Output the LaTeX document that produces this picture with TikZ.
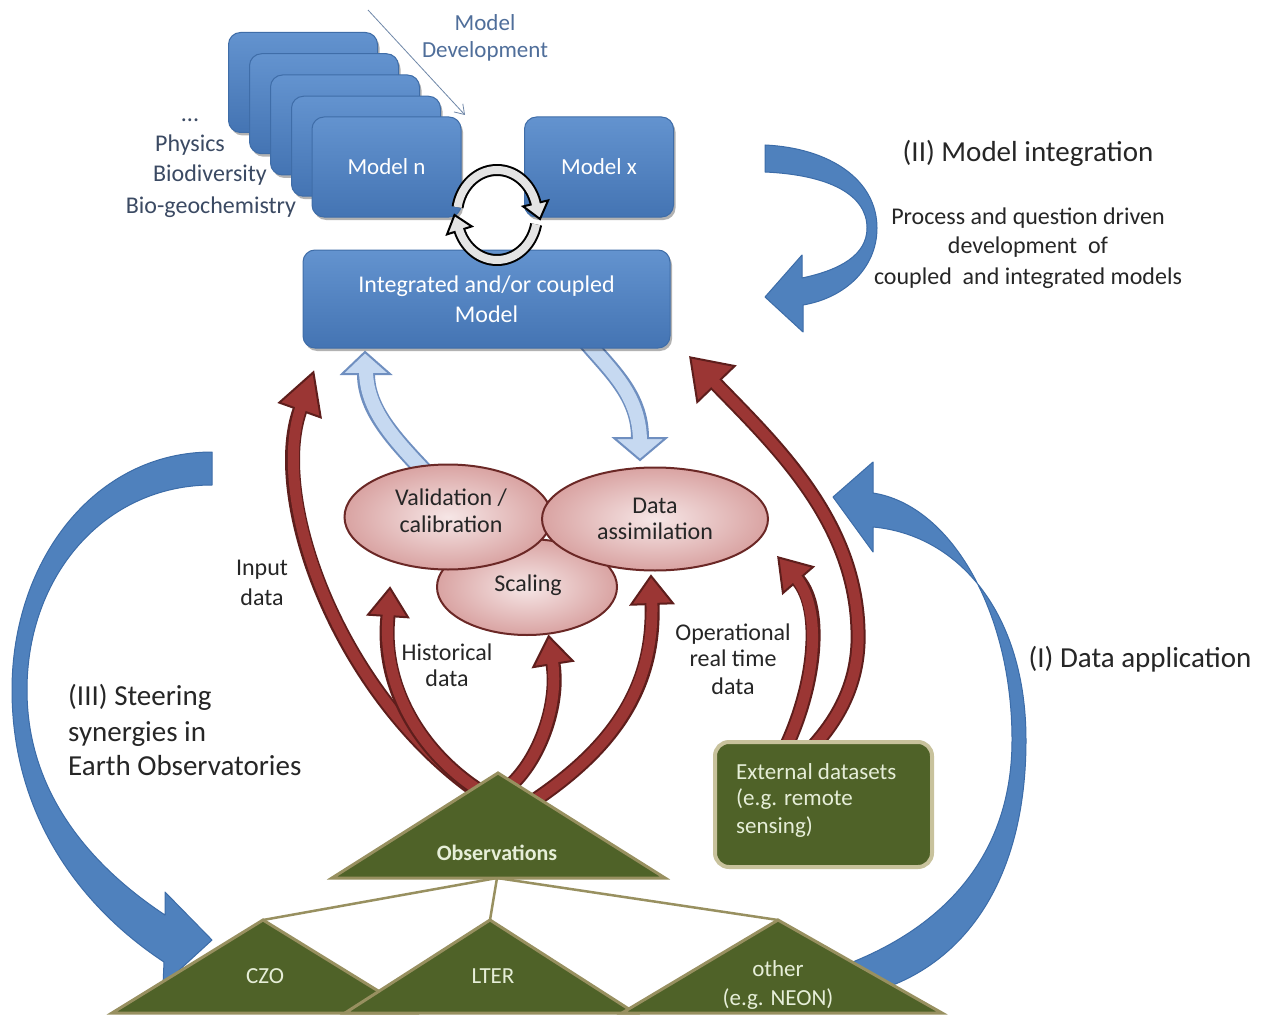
\documentclass[tikz,border=0pt]{standalone}
\usepackage{fontspec}
\setmainfont{Carlito}
\usetikzlibrary{shapes.geometric,arrows.meta,shadows}

\definecolor{BlueA}{HTML}{4F81BD}
\definecolor{BlueD}{HTML}{3C6CA8}
\definecolor{BoxTop}{HTML}{6393CF}
\definecolor{BoxBot}{HTML}{4474B3}
\definecolor{BoxEdge}{HTML}{3F6DA8}
\definecolor{LBfill}{HTML}{C6D9F1}
\definecolor{LBedge}{HTML}{6F8FC0}
\definecolor{RedF}{HTML}{9B3634}
\definecolor{RedD}{HTML}{5E1E1C}
\definecolor{PinkIn}{HTML}{F6E6E6}
\definecolor{PinkOut}{HTML}{D9A3A2}
\definecolor{PinkEdge}{HTML}{6B2826}
\definecolor{OliveF}{HTML}{4F6228}
\definecolor{OliveE}{HTML}{989060}
\definecolor{TanE}{HTML}{C8C29C}
\definecolor{GreenTxt}{HTML}{E6EED8}
\definecolor{LabTxt}{HTML}{262626}
\definecolor{StackTxt}{HTML}{3B4A63}
\definecolor{DevTxt}{HTML}{4F6E9A}
\definecolor{DevLine}{HTML}{6F87A8}
\definecolor{RingF}{HTML}{E4E4E4}

\newcommand\blockarrow[5]{%
  \draw[#1out] #2;
  \filldraw[#1head] #3 -- #4 -- #5 -- cycle;
  \draw[#1in] #2;}

\begin{document}
\begin{tikzpicture}[x=1pt,y=-1pt,
  lab/.style={inner sep=0pt, text=LabTxt, font=\fontsize{24}{29}\selectfont},
  biglab/.style={inner sep=0pt, text=LabTxt, font=\fontsize{29}{35}\selectfont},
  stacklab/.style={inner sep=0pt, text=StackTxt, font=\fontsize{24}{29}\selectfont},
  devlab/.style={inner sep=0pt, text=DevTxt, font=\fontsize{23}{28}\selectfont},
  greenlab/.style={inner sep=0pt, text=GreenTxt, font=\fontsize{23}{28}\selectfont},
  modelbox/.style={rectangle, rounded corners=12pt, draw=BoxEdge, line width=1pt,
    top color=BoxTop, bottom color=BoxBot, inner sep=0pt, minimum width=149pt,
    minimum height=100pt, text=white, align=center, font=\fontsize{23}{30}\selectfont,
    drop shadow={shadow xshift=2pt, shadow yshift=-3pt, opacity=0.3, fill=black}},
  bigblue/.style={fill=BlueA, draw=BlueD, line width=1pt, line join=round},
  redout/.style={draw=RedD, line width=15pt},
  redin/.style={draw=RedF, line width=11pt, shorten >=-4pt},
  redhead/.style={fill=RedF, draw=RedD, line width=2pt, line join=miter},
  lbout/.style={draw=LBedge, line width=18pt},
  lbin/.style={draw=LBfill, line width=14pt, shorten >=-4pt},
  lbhead/.style={fill=LBfill, draw=LBedge, line width=2pt, line join=miter},
  pinkell/.style={ellipse, draw=PinkEdge, line width=2pt, inner color=PinkIn, outer color=PinkOut, inner sep=0pt},
  ringout/.style={draw=black, line width=12pt},
  ringin/.style={draw=RingF, line width=8pt},
  ringhead/.style={fill=RingF, draw=black, line width=2pt, line join=miter},
  tri/.style={fill=OliveF, draw=OliveE, line width=3pt, line join=miter},
  link/.style={draw=OliveE, line width=2.5pt},
  extbox/.style={rectangle, rounded corners=14pt, fill=OliveF, draw=TanE, line width=4pt,
    minimum width=217pt, minimum height=125pt, inner sep=0pt}
]
\fill[white] (0,0) rectangle (1263,1019);
\useasboundingbox (0,0) rectangle (1263,1019);

% ---- big blue curved arrows ----
% (III)
\path[bigblue] (212,452) .. controls (95,452) and (12,560) .. (12,690)
  .. controls (12,820) and (85,910) .. (164,962) -- (163,985) -- (212,940) -- (165,892) -- (165,915)
  .. controls (100,872) and (27,800) .. (27,690) .. controls (27,575) and (105,485) .. (212,485) -- cycle;
% (II)
\path[bigblue] (765,145) .. controls (830,148) and (877,180) .. (877,228)
  .. controls (877,268) and (845,298) .. (803,305) -- (803,332) -- (765,297) -- (802,255) -- (802,278)
  .. controls (840,270) and (867,255) .. (867,228) .. controls (867,195) and (830,175) .. (765,172) -- cycle;
% (I)
\path[bigblue] (885,988) .. controls (965,960) and (1026,880) .. (1026,740)
  .. controls (1026,615) and (960,535) .. (873,527) -- (873,552) -- (833,497) -- (873,462) -- (873,493)
  .. controls (950,505) and (1012,610) .. (1012,740) .. controls (1012,850) and (950,925) .. (845,965) -- cycle;

% ---- model development arrow ----
\coordinate (dev1) at (368,10);
\coordinate (dev2) at (465,115);
\draw[DevLine, line width=0.8pt, -{Straight Barb[length=9pt,width=12pt]}] (dev1) -- (dev2);

% ---- model stack ----
\foreach \i in {0,...,3}
  \node[modelbox, anchor=north west] (stack\i) at ({228+21*\i},{32+21.25*\i}) {};
\node[modelbox] (modn) at (386.5,167) {Model n};
\node[modelbox] (modx) at (599,167) {Model x};

% ---- light blue arrows ----
\blockarrow{lb}{(425,472) .. controls (395,440) and (366,410) .. (366,374)}{(365,352)}{(342,374)}{(390,374)}
\blockarrow{lb}{(585,340) .. controls (610,370) and (640,395) .. (640,438)}{(640,460)}{(614,438)}{(666,438)}

% ---- integrated model ----
\node[modelbox, minimum width=367pt, minimum height=98pt, font=\fontsize{24}{30}\selectfont] (integ) at (486.5,299)
  {Integrated and/or coupled\\Model};

% ---- coupling ring ----
\draw[ringout] plot[domain=190:345, samples=50] ({497+40*cos(\x)},{215+45*sin(\x)});
\filldraw[ringhead] (540,219) -- (548.1,200.4) -- (523.1,206.4) -- cycle;
\draw[ringin] plot[domain=190:348, samples=50] ({497+40*cos(\x)},{215+45*sin(\x)});
\draw[ringout] plot[domain=12:160, samples=50] ({497+40*cos(\x)},{215+45*sin(\x)});
\filldraw[ringhead] (454.5,215) -- (471.8,226.4) -- (447,234.4) -- cycle;
\draw[ringin] plot[domain=12:163, samples=50] ({497+40*cos(\x)},{215+45*sin(\x)});

% ---- ellipses ----
\node[pinkell, minimum width=180pt, minimum height=96pt] (scal) at (527,587) {};
\node[pinkell, minimum width=207pt, minimum height=105pt] (valid) at (448,517) {};
\node[pinkell, minimum width=226pt, minimum height=103pt] (dass) at (655,519) {};

% ---- red arrows ----
\blockarrow{red}{(485,797) .. controls (340,700) and (268,500) .. (300,410)}{(313.4,372.3)}{(279.3,402.6)}{(320.7,417.4)}
\blockarrow{red}{(490,797) .. controls (425,760) and (380,690) .. (388,616)}{(390,588)}{(368,614.7)}{(408,617.3)}
\blockarrow{red}{(502,792) .. controls (535,770) and (560,709) .. (553,664)}{(548.7,636.3)}{(533.2,667.1)}{(572.8,660.9)}
\blockarrow{red}{(532,802) .. controls (610,750) and (655,690) .. (652,604)}{(651,576)}{(631,604.7)}{(673,603.3)}
\blockarrow{red}{(805,755) .. controls (840,720) and (860,680) .. (858,630) .. controls (855,520) and (775,445) .. (716,384)}{(690.3,357.4)}{(734.7,366)}{(697.3,402)}
\blockarrow{red}{(782,755) .. controls (815,690) and (824,610) .. (798,580)}{(778.3,557.4)}{(813.1,566.9)}{(782.9,593.1)}

% ---- external datasets ----
\node[extbox] (ext) at (823.5,804.5) {};

% ---- observation triangles ----
\coordinate (obsA) at (498,773);
\coordinate (obsB) at (497,878);
\coordinate (czoA) at (263,920);
\coordinate (lterA) at (490,920);
\coordinate (othA) at (778,920);
\draw[link] (obsB) -- (czoA);
\draw[link] (obsB) -- (lterA);
\draw[link] (obsB) -- (othA);
\path[tri] (obsA) -- (332,878) -- (665,878) -- cycle;
\path[tri] (czoA) -- (112,1013) -- (414,1013) -- cycle;
\path[tri] (lterA) -- (345,1013) -- (635,1013) -- cycle;
\path[tri] (othA) -- (622,1013) -- (942,1013) -- cycle;

% ---- texts ----
\node[stacklab, anchor=base] (tdots) at (190,122) {...};
\node[stacklab, anchor=base] (tphys) at (190,152) {Physics};
\node[stacklab, anchor=base] (tbiod) at (210,182) {Biodiversity};
\node[stacklab, anchor=base] (tbgc) at (211,213) {Bio-geochemistry};
\node[devlab, anchor=base] (tdev1) at (485,31) {Model};
\node[devlab, anchor=base] (tdev2) at (485,58) {Development};

\node[biglab, anchor=base] (tII) at (1028,162) {(II) Model integration};
\node[lab, anchor=base] (tp1) at (1028,224) {Process and question driven};
\node[lab, anchor=base] (tp2) at (1028,253) {development\ \ of};
\node[lab, anchor=base] (tp3) at (1028,284) {coupled\ \ and integrated models};
\node[biglab, anchor=base] (tI) at (1140,667) {(I) Data application};
\node[biglab, anchor=base west] (tIII1) at (68,705) {(III) Steering};
\node[biglab, anchor=base west] (tIII2) at (68,741) {synergies in};
\node[biglab, anchor=base west] (tIII3) at (68,775) {Earth Observatories};

\node[lab, anchor=base] (tin1) at (262,575) {Input};
\node[lab, anchor=base] (tin2) at (262,605) {data};
\node[lab, anchor=base] (tva1) at (451,505) {Validation /};
\node[lab, anchor=base] (tva2) at (451,532) {calibration};
\node[lab, anchor=base] (tda1) at (655,513) {Data};
\node[lab, anchor=base] (tda2) at (655,539) {assimilation};
\node[lab, anchor=base] (tsc) at (528,591) {Scaling};
\node[lab, anchor=base] (thi1) at (447,660) {Historical};
\node[lab, anchor=base] (thi2) at (447,686) {data};
\node[lab, anchor=base] (top1) at (733,640) {Operational};
\node[lab, anchor=base] (top2) at (733,666) {real time};
\node[lab, anchor=base] (top3) at (733,694) {data};

\node[greenlab, anchor=base west] (tex1) at (736,779) {External datasets};
\node[greenlab, anchor=base west] (tex2) at (736,805) {(e.g. remote};
\node[greenlab, anchor=base west] (tex3) at (736,833) {sensing)};
\node[greenlab, anchor=base, font=\bfseries\fontsize{22}{27}\selectfont] (tobs) at (497,860) {Observations};
\node[greenlab, anchor=base] (tczo) at (265,983) {CZO};
\node[greenlab, anchor=base] (tlter) at (493,983) {LTER};
\node[greenlab, anchor=base] (toth1) at (778,976) {other};
\node[greenlab, anchor=base] (toth2) at (778,1005) {(e.g. NEON)};
\end{tikzpicture}
\end{document}
